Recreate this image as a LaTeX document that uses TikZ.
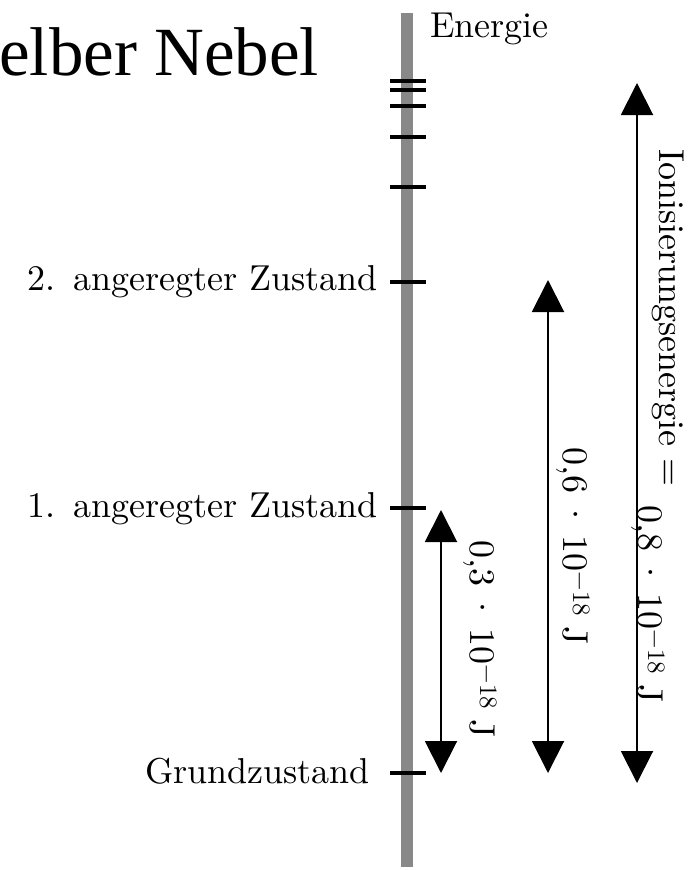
\documentclass[tikz,border=0pt]{standalone}
\usepackage{fontspec}
\newfontfamily\titlefont{Liberation Serif}
\newfontfamily\lmten{lmroman10-regular.otf}
\usetikzlibrary{arrows.meta}
\definecolor{axisgray}{RGB}{136,136,136}
\newcommand\diagfont{\lmten\fontsize{36}{40}\selectfont}
\newcommand\expo[1]{\raisebox{10pt}{\fontsize{25}{27}\selectfont #1}}
\newcommand\gapval[1]{0,#1\hspace{0.2em}·\hspace{0.2em}10\expo{−18}\hspace{0.28em}J}
\tikzset{
  energyaxis/.style={draw=axisgray, line width=12pt},
  leveltick/.style={draw=black, line width=4pt},
  levellabel/.style={font=\diagfont, inner sep=0pt, anchor=base east},
  gaplabel/.style={font=\diagfont, inner sep=0pt, anchor=base west, rotate=-90},
  gaparrow/.style={draw=black, line width=2pt,
    {Triangle[length=32pt,width=32pt]}-{Triangle[length=32pt,width=32pt]}},
}
\begin{document}
\begin{tikzpicture}[x=1pt,y=-1pt]
\useasboundingbox (0,0) rectangle (697,870);

% title
\node[font=\titlefont\fontsize{69}{72}\selectfont, inner sep=0pt, anchor=base west]
  (title) at (-1,75) {elber Nebel};

% energy axis
\coordinate (axtop) at (406.5,13);
\coordinate (axbot) at (406.5,867);
\draw[energyaxis] (axtop) -- (axbot);
\node[font=\diagfont, inner sep=0pt, anchor=base west] (energie) at (430,37) {Energie};

% energy levels
\foreach \name/\yy in {L8/81, L7/90, L6/106, L5/137, L4/187, L3/282, L2/508, L1/773}
  \coordinate (\name) at (408,\yy);
\foreach \name in {L8, L7, L6, L5, L4, L3, L2, L1}
  \draw[leveltick] ([xshift=-18pt]\name) -- ([xshift=18pt]\name);

\node[levellabel] (lab3) at (378,290) {2.\hspace{0.5em}angeregter Zustand};
\node[levellabel] (lab2) at (378,517) {1.\hspace{0.5em}angeregter Zustand};
\node[levellabel] (lab1) at (370,783) {Grundzustand};

% transition arrows
\coordinate (a1top) at (441,510);
\coordinate (a1bot) at (441,773);
\coordinate (a2top) at (548,280);
\coordinate (a2bot) at (548,773);
\coordinate (a3top) at (637,83);
\coordinate (a3bot) at (637,783);
\draw[gaparrow] (a1bot) -- (a1top);
\draw[gaparrow] (a2bot) -- (a2top);
\draw[gaparrow] (a3bot) -- (a3top);

% energy differences
\node[gaplabel] (d1) at (470,540) {\gapval{3}};
\node[gaplabel] (d2) at (563,447) {\gapval{6}};
\node[gaplabel] (d3a) at (659,149) {Ionisierungsenergie =};
\node[gaplabel] (d3b) at (638,505) {\gapval{8}};
\end{tikzpicture}
\end{document}
